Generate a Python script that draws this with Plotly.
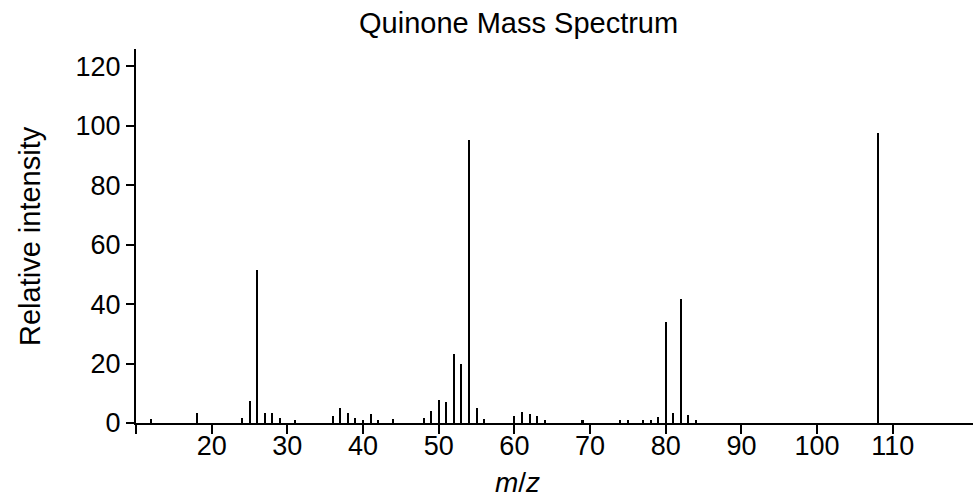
import plotly.graph_objects as go

# m/z values and relative intensities
mz = [12, 18, 24, 25, 26, 27, 28, 29, 31, 36, 37, 38, 39, 40, 41, 42, 44,
      48, 49, 50, 51, 52, 53, 54, 55, 56, 60, 61, 62, 63, 64, 69, 74, 75,
      77, 78, 79, 80, 81, 82, 83, 84, 108]
intensity = [1.4, 3.2, 1.8, 7.4, 51.4, 3.2, 3.2, 1.8, 1.1, 2.4, 4.9, 3.4, 1.6, 1.0, 2.9, 1.1, 1.3,
             1.6, 4.0, 7.8, 6.9, 23.2, 19.7, 95.3, 4.9, 1.2, 2.2, 3.8, 2.9, 2.3, 1.1, 1.1, 1.1, 1.1,
             1.1, 1.1, 1.9, 34.0, 3.2, 41.7, 2.7, 1.1, 97.6]

x_ticks = [10, 20, 30, 40, 50, 60, 70, 80, 90, 100, 110]
x_tick_text = ["", "20", "30", "40", "50", "60", "70", "80", "90", "100", "110"]
y_ticks = [0, 20, 40, 60, 80, 100, 120]

W, H = 973, 497
L, R, T = 136, 0, 49
PLOT_BOTTOM = 422.7
B = H - PLOT_BOTTOM
FONT = "Liberation Sans, Arial, Helvetica, sans-serif"
FS_TICK = 27
FS_TITLE = 29
FS_YT = 29
FS_XT = 28

fig = go.Figure()
fig.add_trace(go.Bar(x=mz, y=intensity, width=0.27, hoverinfo="skip",
                     marker=dict(color="black", line=dict(width=0))))

pw = W - L - R
ph = H - T - B
def pxx(px):
    return (px - L) / pw
def pxy(py):
    return (PLOT_BOTTOM - py) / ph

fig.update_layout(
    width=W, height=H,
    margin=dict(l=L, r=R, t=T, b=B, pad=0),
    paper_bgcolor="white", plot_bgcolor="white",
    showlegend=False,
    font=dict(family=FONT, size=FS_TICK, color="black"),
    bargap=0,
    xaxis=dict(range=[10, 120.6], tickmode="array", tickvals=x_ticks, ticktext=x_tick_text,
               showgrid=False, zeroline=False, showline=True, linecolor="black", linewidth=2,
               ticks="outside", ticklen=9, tickwidth=2, tickcolor="black",
               ticklabelstandoff=-11,
               tickfont=dict(family=FONT, size=FS_TICK, color="black")),
    yaxis=dict(range=[0, 125.8], tickmode="array", tickvals=y_ticks,
               showgrid=False, zeroline=False, showline=True, linecolor="black", linewidth=2,
               ticks="outside", ticklen=8, tickwidth=2, tickcolor="black",
               tickfont=dict(family=FONT, size=FS_TICK, color="black")),
    annotations=[
        dict(text="Quinone Mass Spectrum", xref="paper", yref="paper",
             x=pxx(518), y=pxy(23), xanchor="center", yanchor="middle",
             showarrow=False, font=dict(family=FONT, size=FS_TITLE, color="black")),
        dict(text="<i>m</i>/<i>z</i>", xref="paper", yref="paper",
             x=pxx(517), y=pxy(482), xanchor="center", yanchor="middle",
             showarrow=False, font=dict(family=FONT, size=FS_XT, color="black")),
        dict(text="Relative intensity", xref="paper", yref="paper", textangle=-90,
             x=pxx(30), y=0.5, xanchor="center", yanchor="middle",
             showarrow=False, font=dict(family=FONT, size=FS_YT, color="black")),
    ],
)

fig.write_html("out.html",
               config={"displayModeBar": False},
               post_script="document.body.style.margin='0';document.documentElement.style.overflow='hidden';")
